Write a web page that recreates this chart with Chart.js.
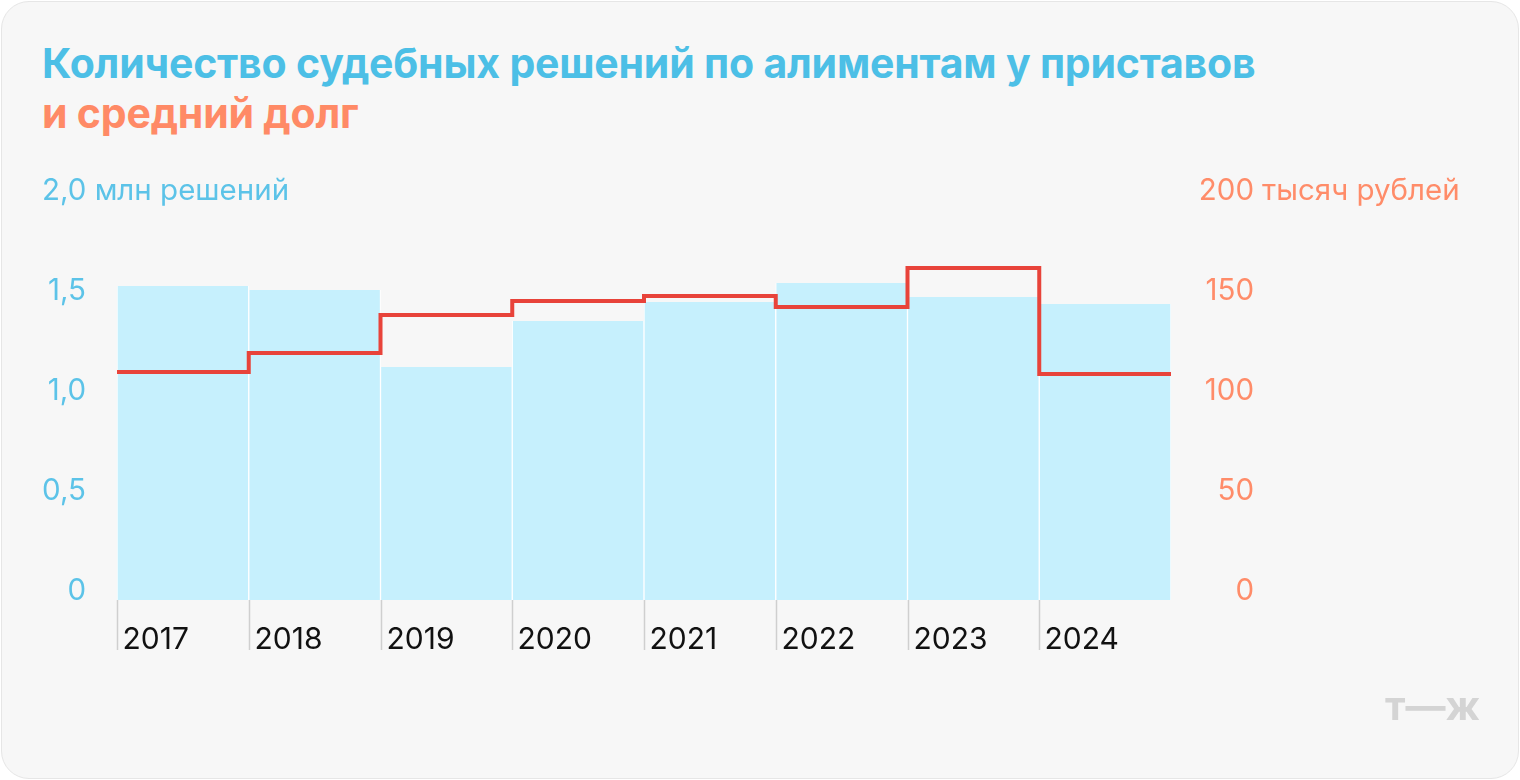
<!DOCTYPE html>
<html><head><meta charset="utf-8">
<script src="https://cdn.jsdelivr.net/npm/chart.js@4"></script>
<style>
html,body{margin:0;background:#fff;width:1520px;height:780px;overflow:hidden}
#card{position:absolute;left:1px;top:1px;width:1516px;height:776px;background:#f7f7f7;border:1px solid #e6e6e6;border-radius:28px}
h1{position:absolute;left:42px;top:38px;margin:0;font:700 41px/50px Inter,"Noto Sans",sans-serif;letter-spacing:-0.2px}
#c{position:absolute;left:0;top:0}
</style></head><body>
<div id="card"></div>
<h1><span style="color:#4cbfe6">Количество судебных решений по алиментам у приставов</span><br><span style="color:#ff8a66">и средний долг</span></h1>
<canvas id="c" width="1520" height="780"></canvas>
<script>
const years=['2017','2018','2019','2020','2021','2022','2023','2024'];
const decisions=[1.57,1.55,1.165,1.395,1.49,1.585,1.515,1.48];
const debt=[114,123.5,142.5,149.5,152,146.5,166,113];
const leftTicks=[0,0.5,1.0,1.5];
const rightTicks=[0,50,100,150];
const BLUE='#5cc3e8',ORANGE='#ff8c69';
const linePts=debt.map((v,i)=>({x:i-0.5,y:v}));linePts.push({x:7.5,y:debt[debt.length-1]});
const font='Inter, "Noto Sans", sans-serif';
const deco={id:'deco',afterDraw(ch){
 const c=ch.ctx,y=ch.scales.y,y2=ch.scales.y2,xl=ch.scales.xl;
 c.save();c.font='29.5px '+font;c.textBaseline='middle';
 c.textAlign='right';c.fillStyle=BLUE;
 leftTicks.forEach(v=>c.fillText(v===0?'0':v.toFixed(1).replace('.',','),86,y.getPixelForValue(v)-9));
 c.fillStyle=ORANGE;
 rightTicks.forEach(v=>c.fillText(String(v),1254,y2.getPixelForValue(v)-9));
 c.fillText('200',1254,y2.getPixelForValue(200)-9);
 c.textAlign='left';c.fillText('тысяч рублей',1262,y2.getPixelForValue(200)-9);
 c.fillStyle=BLUE;c.fillText('2,0 млн решений',42,y.getPixelForValue(2)-9);
 const base=y.getPixelForValue(0);
 c.strokeStyle='#cfcfcf';c.lineWidth=1.5;
 c.font='30px '+font;
 years.forEach((t,i)=>{const px=Math.round(xl.getPixelForValue(i-0.5))+0.5;
  c.beginPath();c.moveTo(px,base);c.lineTo(px,base+50);c.stroke();
  c.fillStyle='#111';c.fillText(t,px+5,base+40);});
 c.font='bold 40px '+font;c.fillStyle='#d4d4d4';c.textAlign='right';c.fillText('т—ж',1480,708);
 c.restore();}};
new Chart(document.getElementById('c'),{
 data:{labels:years,datasets:[
  {type:'line',data:linePts,xAxisID:'xl',yAxisID:'y2',borderColor:'#e8433a',borderWidth:4,pointRadius:0,stepped:'before',fill:false,order:0},
  {type:'bar',data:decisions,xAxisID:'x',yAxisID:'y',grouped:false,backgroundColor:'#c6f0fd',borderColor:'#ffffff',borderWidth:{left:1,right:1},borderSkipped:'bottom',barPercentage:1,categoryPercentage:1,order:1}
 ]},
 options:{responsive:false,animation:false,events:[],
  layout:{padding:{left:117,right:349,top:200,bottom:180}},
  plugins:{legend:{display:false},tooltip:{enabled:false}},
  scales:{
   x:{display:false,offset:true},
   xl:{type:'linear',display:false,min:-0.5,max:7.5},
   y:{display:false,min:0,max:2},
   y2:{display:false,min:0,max:200}
  }},
 plugins:[deco]});
</script></body></html>
